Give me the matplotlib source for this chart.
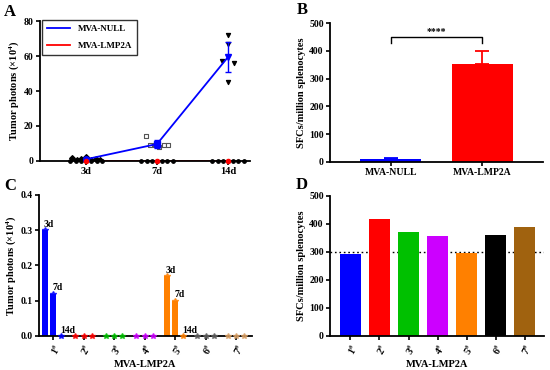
import numpy as np
import matplotlib
matplotlib.use("Agg")
import matplotlib.pyplot as plt

plt.rcParams['font.family'] = ['Liberation Serif', 'DejaVu Serif']
plt.rcParams['font.weight'] = 'bold'
plt.rcParams['mathtext.fontset'] = 'custom'
plt.rcParams['mathtext.rm'] = 'Liberation Serif:bold'
plt.rcParams['mathtext.it'] = 'Liberation Serif:bold'
plt.rcParams['mathtext.bf'] = 'Liberation Serif:bold'
plt.rcParams['mathtext.default'] = 'rm'

# ---------------- data ----------------
timepoints = ['3d', '7d', '14d']
null_pts_3d = [1.5, 0.5, 1.2, 2.0, 0.8, 1.0, 0.3]
null_pts_7d = [14, 9, 9, 8, 9, 9]
null_pts_14d = [72, 67, 57, 56, 45]
null_mean = [1.0, 9.7, 59.4]
null_err = [0.8, 2.5, 8.5]
lmp_pts_3d = [0, 0, 0, 0, 0, 0, 0]
lmp_pts_7d = [0, 0, 0, 0, 0, 0, 0]
lmp_pts_14d = [0, 0, 0, 0, 0, 0, 0]
lmp_mean = [0, 0, 0]

groups_B = ['MVA-NULL', 'MVA-LMP2A']
sfc_B = [10, 352]
sfc_B_err = [5, 46]
sig_label = '****'

mice = ['1', '2', '3', '4', '5', '6', '7']
photons_3d = [0.30, 0, 0, 0, 0.17, 0, 0]
photons_7d = [0.12, 0, 0, 0, 0.10, 0, 0]
photons_14d = [0, 0, 0, 0, 0, 0, 0]
sfc_D = [292, 418, 372, 358, 295, 360, 388]
threshold_D = 300

colors_B = ['#0000ff', '#ff0000']
colors_C = ['#0000ff', '#ff0000', '#00c000', '#cc00ff', '#ff8000', '#606060', '#d9a066']
colors_D = ['#0000ff', '#ff0000', '#00c000', '#cc00ff', '#ff8000', '#000000', '#a0620f']

FS = 7
LFS = 7.5

def style(ax):
    for s in ['top', 'right']:
        ax.spines[s].set_visible(False)
    for s in ['left', 'bottom']:
        ax.spines[s].set_linewidth(1.3)
    ax.tick_params(width=1.2, length=3, labelsize=FS, pad=1.5)
    for lab in ax.get_xticklabels() + ax.get_yticklabels():
        lab.set_fontweight('bold')

fig = plt.figure(figsize=(5.5, 3.7), dpi=100)

# ---------------- A ----------------
axA = fig.add_axes([0.0727, 0.5649, 0.3818, 0.3783])
x = np.arange(len(timepoints))
blue = '#0000ff'
axA.plot(x, lmp_mean, color='red', lw=1.3, zorder=2, label='MVA-LMP2A')
axA.plot(x, null_mean, color=blue, lw=1.3, zorder=4, label='MVA-NULL')
axA.errorbar(x, null_mean, yerr=null_err, fmt='none', ecolor=blue, elinewidth=1.0, capsize=2.5, zorder=4)
for xi, m, mk in zip(x, null_mean, ['o', 's', 'v']):
    axA.plot(xi, m, marker=mk, color=blue, ms=4, zorder=5)
axA.plot(x, lmp_mean, 'o', color='red', ms=3, zorder=5, clip_on=False)
# individual points
def spread(n, w=0.22):
    return np.linspace(-w, w, n)
for xi, pts in zip(x, [lmp_pts_3d, lmp_pts_7d, lmp_pts_14d]):
    axA.scatter(xi + spread(len(pts)), pts, s=6, color='black', zorder=3, clip_on=False)
axA.scatter(x[0] + spread(len(null_pts_3d), 0.2), null_pts_3d, s=8, marker='D', color='black', zorder=3)
axA.scatter(x[1] + spread(len(null_pts_7d), 0.16), null_pts_7d, s=8, marker='s',
            facecolor='white', edgecolor='#555555', linewidths=0.8, zorder=3)
axA.scatter(x[2] + np.array([0, 0, -0.08, 0.08, 0]), null_pts_14d, s=8, marker='v', color='black', zorder=3)
axA.set_xlim(-0.65, 2.31)
axA.set_ylim(0, 80)
axA.set_yticks([0, 20, 40, 60, 80])
axA.set_xticks(x)
axA.set_xticklabels(timepoints)
axA.set_ylabel('Tumor photons (×10$^{4}$)', fontsize=LFS, fontweight='bold', labelpad=2)
style(axA)
for lab in axA.get_xticklabels():
    lab.set_fontsize(7.5)
h, l = axA.get_legend_handles_labels()
leg = axA.legend(h[::-1], l[::-1], loc='upper left', bbox_to_anchor=(0.0, 1.02), fontsize=6.5,
                 frameon=True, fancybox=False, edgecolor='black', handlelength=2.6,
                 borderpad=0.55, labelspacing=0.9, handletextpad=0.8, borderaxespad=0.2)
leg.get_frame().set_linewidth(1.0)
for t in leg.get_texts():
    t.set_fontweight('bold')

# ---------------- B ----------------
axB = fig.add_axes([0.6, 0.5622, 0.3873, 0.3756])
xb = np.arange(len(groups_B))
axB.bar(xb, sfc_B, width=0.67, color=colors_B, zorder=2)
for xi, v, e, c in zip(xb, sfc_B, sfc_B_err, colors_B):
    axB.errorbar(xi, v, yerr=[[0], [e]], fmt='none', ecolor=c,
                 elinewidth=1.3, capsize=5, capthick=1.3, zorder=1)
axB.set_xlim(-0.67, 1.67)
axB.set_ylim(0, 500)
axB.set_yticks([0, 100, 200, 300, 400, 500])
axB.set_xticks(xb)
axB.set_xticklabels(groups_B)
axB.set_ylabel('SFCs/million splenocytes', fontsize=LFS, fontweight='bold', labelpad=2)
axB.plot([0, 0, 1, 1], [428, 450, 450, 428], color='black', lw=1.0)
axB.text(0.5, 455, sig_label, ha='center', va='bottom', fontsize=7, fontweight='bold')
style(axB)

# ---------------- C ----------------
axC = fig.add_axes([0.0709, 0.0919, 0.3873, 0.3811])
xc = np.arange(len(mice))
off = 0.27
bw = 0.21
for i in range(len(mice)):
    vals = [photons_3d[i], photons_7d[i], photons_14d[i]]
    for j, v in enumerate(vals):
        xx = xc[i] + (j - 1) * off
        axC.bar(xx, v, width=bw, color=colors_C[i] if i != 5 else '#000000', zorder=2)
        axC.plot(xx, v, marker='*', color=colors_C[i], ms=4, alpha=0.8, zorder=3, clip_on=False)
    if max(vals) > 0:
        for j, (v, lab) in enumerate(zip(vals, timepoints)):
            xx = xc[i] + (j - 1) * off
            axC.text(xx - 0.03, v + 0.004, lab, ha='left', va='bottom', fontsize=7, fontweight='bold')
axC.set_xlim(-0.46, 6.52)
axC.set_ylim(0, 0.4)
axC.set_yticks([0.0, 0.1, 0.2, 0.3, 0.4])
axC.set_yticklabels(['0.0', '0.1', '0.2', '0.3', '0.4'])
axC.set_xticks(xc)
axC.set_xticklabels([m + '$^{\\#}$' for m in mice], rotation=60, ha='right', rotation_mode='anchor')
axC.set_ylabel('Tumor photons (×10$^{4}$)', fontsize=LFS, fontweight='bold', labelpad=2)
axC.set_xlabel('MVA-LMP2A', fontsize=LFS, fontweight='bold', labelpad=2)
style(axC)

# ---------------- D ----------------
axD = fig.add_axes([0.6, 0.0919, 0.3891, 0.3784])
xd = np.arange(len(mice))
axD.bar(xd, sfc_D, width=0.72, color=colors_D, zorder=2)
axD.axhline(threshold_D, color='black', ls=(0, (1.2, 2)), lw=1.0, zorder=1)
axD.set_xlim(-0.7, 6.66)
axD.set_ylim(0, 500)
axD.set_yticks([0, 100, 200, 300, 400, 500])
axD.set_xticks(xd)
axD.set_xticklabels([m + '$^{\\#}$' for m in mice], rotation=60, ha='right', rotation_mode='anchor')
axD.set_ylabel('SFCs/million splenocytes', fontsize=LFS, fontweight='bold', labelpad=2)
axD.set_xlabel('MVA-LMP2A', fontsize=LFS, fontweight='bold', labelpad=2)
style(axD)

# panel letters
for lab, (px, py) in zip('ABCD', [(10, 12), (302, 10), (10, 186), (302, 185)]):
    fig.text(px / 550, 1 - py / 370, lab, fontsize=12, fontweight='bold', ha='center', va='center')

fig.savefig('out.png', dpi=100)
